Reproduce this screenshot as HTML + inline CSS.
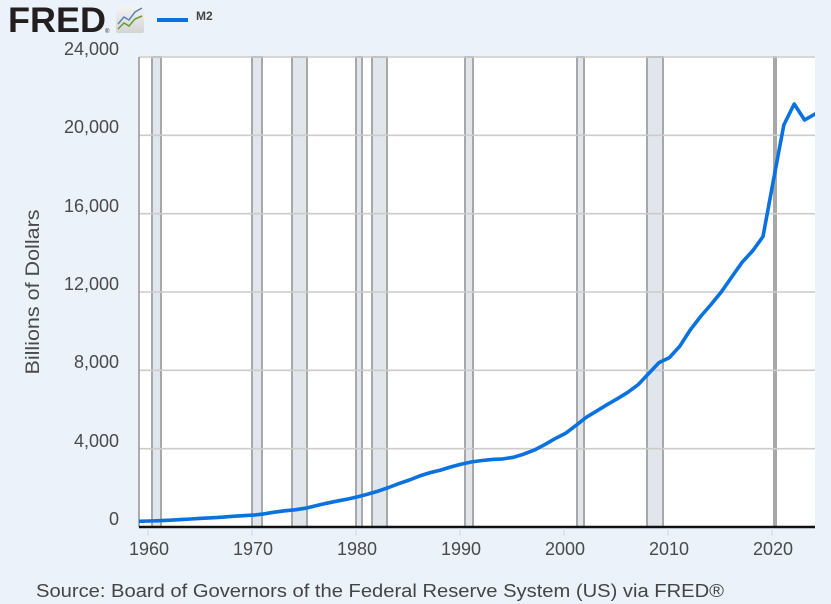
<!DOCTYPE html>
<html>
<head>
<meta charset="utf-8">
<style>
html,body{margin:0;padding:0;background:#ebf2fa;}
svg{display:block;}
text{font-family:"Liberation Sans",Arial,sans-serif;}
</style>
</head>
<body>
<svg width="831" height="604" viewBox="0 0 831 604" xmlns="http://www.w3.org/2000/svg">
<defs>
<linearGradient id="ig" x1="0" y1="0" x2="0" y2="1">
<stop offset="0" stop-color="#f4f4f4"/>
<stop offset="1" stop-color="#d4d4d4"/>
</linearGradient>
<clipPath id="pc"><rect x="139" y="50" width="676" height="478"/></clipPath>
</defs>
<rect x="0" y="0" width="831" height="604" fill="#ebf2fa"/>

<!-- Logo -->
<text x="8" y="32" font-size="35" font-weight="bold" fill="#231f20" textLength="98" lengthAdjust="spacingAndGlyphs">FRED</text>
<text x="105" y="33" font-size="6" fill="#231f20">®</text>
<rect x="116" y="6" width="28" height="27" rx="2" fill="url(#ig)"/>
<polyline points="118,24 124,17 129,20 135,12 142,8" fill="none" stroke="#5a86b8" stroke-width="1.5"/>
<polyline points="118,29 124,23 129,26 135,19 142,16" fill="none" stroke="#6a9a3a" stroke-width="1.5"/>

<!-- Legend -->
<line x1="157" y1="20" x2="188" y2="20" stroke="#0a72e0" stroke-width="4"/>
<text x="196" y="20" font-size="12" font-weight="bold" fill="#444">M2</text>

<!-- Plot area -->
<rect x="139" y="57" width="676" height="470" fill="#ffffff"/>

<!-- Recessions -->
<g fill="#e1e6ec" stroke="#a8a8a8" stroke-width="2">
<rect x="152" y="57" width="9" height="470"/>
<rect x="252" y="57" width="10" height="470"/>
<rect x="292" y="57" width="15" height="470"/>
<rect x="356" y="57" width="6" height="470"/>
<rect x="372" y="57" width="15" height="470"/>
<rect x="465" y="57" width="8" height="470"/>
<rect x="577" y="57" width="7" height="470"/>
<rect x="647" y="57" width="16" height="470"/>
<rect x="774" y="57" width="2" height="470"/>
</g>

<!-- Horizontal gridlines -->
<g stroke="#cccccc" stroke-width="1.6">
<line x1="139" y1="57" x2="815" y2="57"/>
<line x1="139" y1="135.3" x2="815" y2="135.3"/>
<line x1="139" y1="213.7" x2="815" y2="213.7"/>
<line x1="139" y1="292" x2="815" y2="292"/>
<line x1="139" y1="370.3" x2="815" y2="370.3"/>
<line x1="139" y1="448.7" x2="815" y2="448.7"/>
</g>

<!-- Left axis -->
<line x1="139" y1="57" x2="139" y2="527" stroke="#999" stroke-width="1.6"/>

<!-- Series -->
<polyline clip-path="url(#pc)" fill="none" stroke="#0a72e0" stroke-width="3.6" stroke-linejoin="round" stroke-linecap="round"
points="139,521.3 149.4,521.0 159.8,520.7 170.2,520.2 180.6,519.6 191.0,519.0 201.4,518.3 211.8,517.8 222.2,517.2 232.6,516.3 243.0,515.7 253.4,515.1 263.8,513.9 274.2,512.2 284.6,510.8 295.0,509.8 305.4,508.2 315.8,505.8 326.2,503.3 336.6,501.2 347.0,499.2 357.4,496.9 367.8,494.1 378.2,491.1 388.6,487.5 399.0,483.6 409.4,480.0 419.8,475.9 430.2,472.6 440.6,470.1 451.0,466.9 461.4,464.1 471.8,461.9 482.2,460.5 492.6,459.4 503.0,458.9 513.4,457.3 523.8,454.1 534.2,450.1 544.6,444.7 555.0,438.7 565.4,433.4 575.8,425.6 586.2,417.3 596.6,411.1 607.0,404.7 617.4,398.7 627.8,392.3 638.2,384.6 648.6,373.6 659.0,362.6 669.4,357.6 679.8,346.2 690.2,330.0 700.6,316.5 711.0,304.5 721.4,291.8 731.8,276.9 742.2,262.2 752.6,250.9 763.0,236.5 773.4,180.4 783.8,125.0 794.2,104.0 804.6,120.0 815,114.0"/>

<!-- Bottom axis -->
<line x1="139" y1="527" x2="815" y2="527" stroke="#111" stroke-width="2.4"/>
<g stroke="#ccd6eb" stroke-width="1">
<line x1="148" y1="528" x2="148" y2="536"/>
<line x1="252" y1="528" x2="252" y2="536"/>
<line x1="356" y1="528" x2="356" y2="536"/>
<line x1="460" y1="528" x2="460" y2="536"/>
<line x1="564" y1="528" x2="564" y2="536"/>
<line x1="668" y1="528" x2="668" y2="536"/>
<line x1="772" y1="528" x2="772" y2="536"/>
</g>

<!-- Y tick labels -->
<g font-size="18" fill="#4a4a4a" text-anchor="end">
<text x="119" y="55">24,000</text>
<text x="119" y="133">20,000</text>
<text x="119" y="212">16,000</text>
<text x="119" y="290">12,000</text>
<text x="119" y="368">8,000</text>
<text x="119" y="447">4,000</text>
<text x="119" y="525">0</text>
</g>

<!-- X tick labels -->
<g font-size="18" fill="#4a4a4a" text-anchor="middle">
<text x="149" y="555">1960</text>
<text x="253" y="555">1970</text>
<text x="357" y="555">1980</text>
<text x="461" y="555">1990</text>
<text x="565" y="555">2000</text>
<text x="669" y="555">2010</text>
<text x="773" y="555">2020</text>
</g>

<!-- Y axis title -->
<text transform="translate(39,292) rotate(-90)" font-size="19" fill="#4a4a4a" text-anchor="middle" textLength="165" lengthAdjust="spacingAndGlyphs">Billions of Dollars</text>

<!-- Source -->
<text x="36" y="597" font-size="18" fill="#444" textLength="688" lengthAdjust="spacingAndGlyphs">Source: Board of Governors of the Federal Reserve System (US) via FRED®</text>
</svg>
</body>
</html>
